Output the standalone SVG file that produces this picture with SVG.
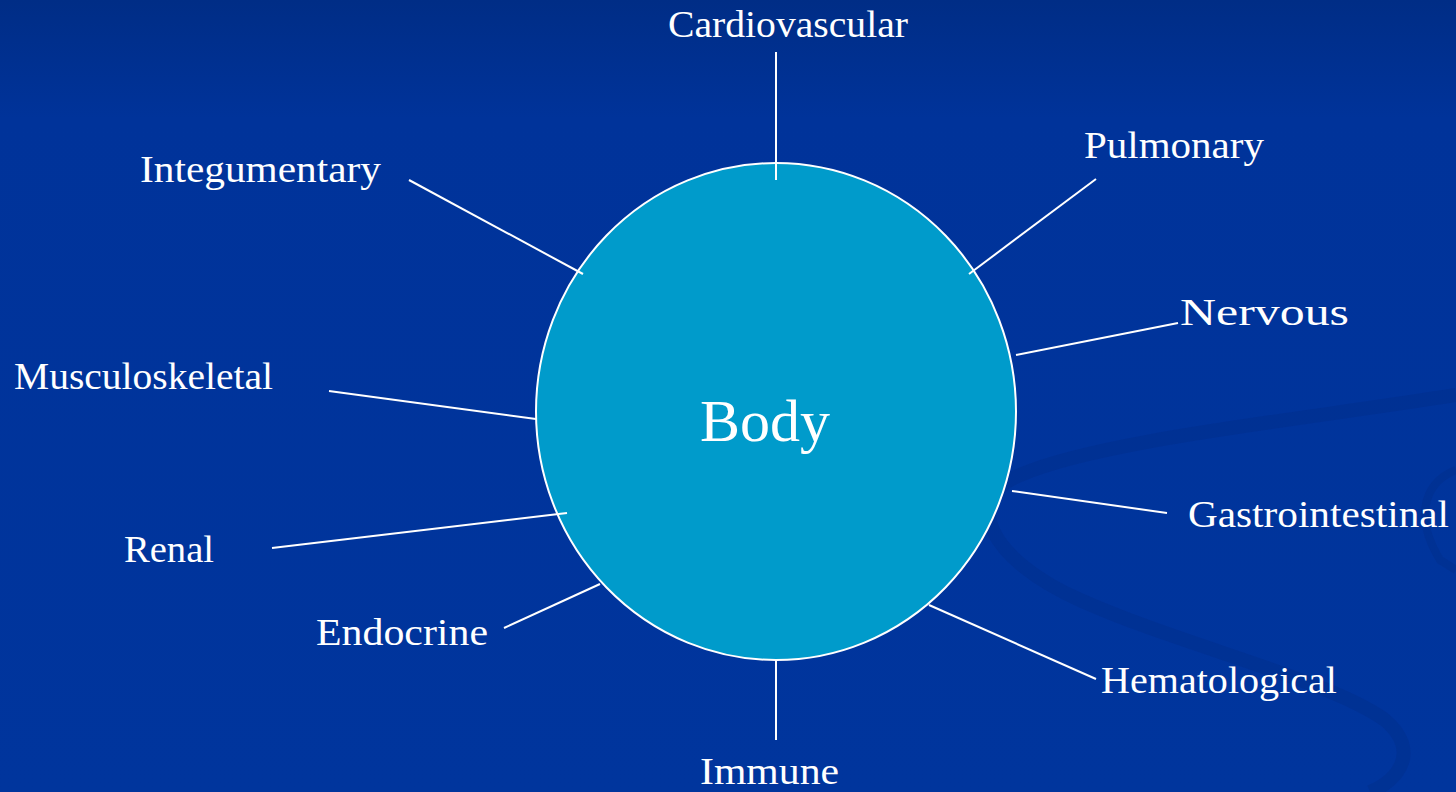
<svg xmlns="http://www.w3.org/2000/svg" width="1456" height="792" viewBox="0 0 1456 792">
<defs>
<linearGradient id="bg" x1="0" y1="0" x2="0" y2="1">
<stop offset="0" stop-color="#002d86"/>
<stop offset="0.15" stop-color="#00339a"/>
<stop offset="1" stop-color="#00359d"/>
</linearGradient>
</defs>
<style>
.lbl{font-family:"Liberation Serif","DejaVu Serif",serif;font-size:38px;fill:#ffffff}
.con line{stroke:#ffffff;stroke-width:2}
.swirl{fill:none;stroke:#002a80;stroke-opacity:0.3}
</style>
<rect x="0" y="0" width="1456" height="792" fill="url(#bg)"/>
<g id="swirl">
<path class="swirl" stroke-width="14" d="M1456,395 C1300,420 1100,440 1020,475 C960,500 990,560 1080,600 C1180,645 1330,680 1385,720 C1420,750 1400,780 1370,792"/>
<path class="swirl" stroke-width="8" stroke-opacity="0.2" d="M1456,470 C1430,480 1410,510 1440,560 L1456,570"/>
</g>
<g id="body">
<ellipse cx="776" cy="411.5" rx="240" ry="248.5" fill="#009bcb" stroke="#ffffff" stroke-width="2"/>
<text class="lbl" x="765" y="441" text-anchor="middle" style="font-size:60px" textLength="130" lengthAdjust="spacingAndGlyphs">Body</text>
</g>
<g id="connectors" class="con">
<line x1="776" y1="52" x2="776" y2="180"/>
<line x1="1096" y1="179" x2="969" y2="274"/>
<line x1="1178" y1="323" x2="1016" y2="355"/>
<line x1="1012" y1="491" x2="1167" y2="513"/>
<line x1="929" y1="605" x2="1096" y2="679"/>
<line x1="776" y1="660" x2="776" y2="740"/>
<line x1="600" y1="584" x2="504" y2="628"/>
<line x1="567" y1="513" x2="272" y2="548"/>
<line x1="329" y1="391" x2="536" y2="419"/>
<line x1="409" y1="180" x2="583" y2="274"/>
</g>
<g id="cardiovascular"><text class="lbl" x="668" y="37" textLength="240" lengthAdjust="spacingAndGlyphs">Cardiovascular</text></g>
<g id="pulmonary"><text class="lbl" x="1084" y="158" textLength="180" lengthAdjust="spacingAndGlyphs">Pulmonary</text></g>
<g id="nervous"><text class="lbl" x="1180" y="325" textLength="169" lengthAdjust="spacingAndGlyphs">Nervous</text></g>
<g id="gastrointestinal"><text class="lbl" x="1188" y="527" textLength="261" lengthAdjust="spacingAndGlyphs">Gastrointestinal</text></g>
<g id="hematological"><text class="lbl" x="1101" y="693" textLength="236" lengthAdjust="spacingAndGlyphs">Hematological</text></g>
<g id="immune"><text class="lbl" x="700" y="784" textLength="139" lengthAdjust="spacingAndGlyphs">Immune</text></g>
<g id="endocrine"><text class="lbl" x="316" y="645" textLength="172" lengthAdjust="spacingAndGlyphs">Endocrine</text></g>
<g id="renal"><text class="lbl" x="124" y="562" textLength="90" lengthAdjust="spacingAndGlyphs">Renal</text></g>
<g id="musculoskeletal"><text class="lbl" x="14" y="389" textLength="259" lengthAdjust="spacingAndGlyphs">Musculoskeletal</text></g>
<g id="integumentary"><text class="lbl" x="140" y="182" textLength="241" lengthAdjust="spacingAndGlyphs">Integumentary</text></g>
</svg>
